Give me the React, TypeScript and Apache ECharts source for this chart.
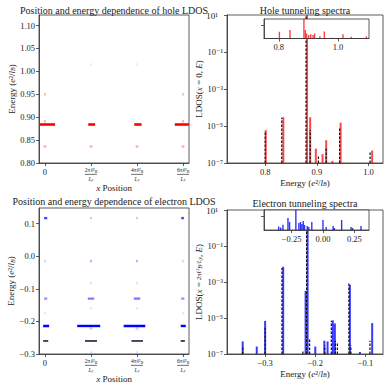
import React, { useEffect, useRef } from 'react';
import * as echarts from 'echarts';

// ---------- Top-left: hole LDOS map (x in units of 2πℓ²_B/L_y) ----------
const holeSegE = [0.884, 0.884, 0.884, 0.884, 0.836, 0.836, 0.836, 0.836, 0.891, 0.891, 0.95, 0.95, 1.015, 1.015];
const holeSegX0 = [-0.13, 0.94, 1.94, 2.82, -0.03, 0.97, 1.97, 2.97, -0.02, 2.98, -0.02, 2.98, 0.98, 1.98];
const holeSegX1 = [0.22, 1.09, 2.1, 3.13, 0.03, 1.03, 2.03, 3.03, 0.02, 3.02, 0.02, 3.02, 1.02, 2.02];
const holeSegW = [1, 1, 1, 1, 0.3, 0.3, 0.3, 0.3, 0.3, 0.3, 0.25, 0.25, 0.1, 0.1];

// ---------- Bottom-left: electron LDOS map ----------
const elecSegE = [0.117, 0.117, 0.117, 0.117, -0.015, -0.015, -0.015, -0.015, -0.083, -0.083, -0.13, -0.13, -0.13, -0.13, -0.16, -0.16, -0.175, -0.175, -0.214, -0.214, -0.214, -0.214, -0.222, -0.222, -0.295, -0.295];
const elecSegX0 = [-0.02, 0.98, 1.98, 2.96, -0.02, 0.98, 1.98, 2.98, 0.98, 1.98, -0.02, 0.93, 1.93, 2.96, 0.98, 1.98, -0.02, 2.98, -0.04, 0.7, 1.71, 2.95, 0.97, 1.97, 0.98, 1.98];
const elecSegX1 = [0.05, 1.02, 2.02, 3.02, 0.02, 1.02, 2.02, 3.02, 1.02, 2.02, 0.05, 1.07, 2.07, 3.03, 1.02, 2.02, 0.02, 3.02, 0.09, 1.2, 2.18, 3.06, 1.03, 2.03, 1.02, 2.02];
const elecSegW = [0.7, 0.2, 0.2, 0.7, 0.15, 0.3, 0.3, 0.15, 0.12, 0.12, 0.4, 0.5, 0.5, 0.4, 0.1, 0.1, 0.1, 0.1, 1, 1, 1, 1, 0.2, 0.2, 0.1, 0.1];
const elecDarkE = [-0.26, -0.26, -0.26, -0.26];
const elecDarkX0 = [-0.04, 0.87, 1.88, 2.95];
const elecDarkX1 = [0.07, 1.13, 2.13, 3.04];

// ---------- Top-right: hole tunneling spectra ----------
const holeRedE = [0.801, 0.835, 0.881, 0.887, 0.898, 0.911, 0.918, 0.93, 0.946, 1.007];
const holeRedV = [6e-6, 3e-5, 20, 3e-5, 6e-7, 3e-7, 1.7e-6, 1.3e-7, 1.5e-5, 4.7e-7];
const holeBlackE = [0.8, 0.832, 0.879, 0.887, 0.903, 0.918, 0.944, 1.003];
const holeBlackV = [5e-6, 2.8e-5, 20, 6e-6, 2.5e-7, 6.6e-7, 8e-6, 4e-7];
const holeInsetE = [0.802, 0.838, 0.885, 0.89, 0.894, 0.901, 0.908, 0.916, 0.921, 0.939, 0.954, 0.98, 1.017, 1.045, 1.096];
const holeInsetH = [0.51, 0.65, 1.6, 0.65, 0.39, 0.26, 0.33, 0.26, 0.39, 0.18, 0.54, 0.05, 0.33, 0.13, 0.18];

// ---------- Bottom-right: electron tunneling spectra ----------
const elecBlueE = [-0.3447, -0.3167, -0.3, -0.264, -0.2193, -0.2153, -0.2, -0.182, -0.1755, -0.165, -0.161, -0.131, -0.111, -0.0866];
const elecBlueV = [5e-7, 2.6e-7, 6.9e-6, 7e-3, 3.2e-4, 20, 2.6e-7, 5.5e-7, 5e-7, 7.4e-6, 5e-6, 7e-4, 1.3e-7, 5.2e-6];
const elecBlackE = [-0.3447, -0.3, -0.2665, -0.2247, -0.2173, -0.2113, -0.181, -0.168, -0.16, -0.156, -0.133, -0.129, -0.091];
const elecBlackV = [2.5e-7, 2.8e-6, 6e-3, 1.4e-7, 20, 7e-7, 3e-7, 7e-6, 5.5e-7, 4e-7, 1e-3, 3e-7, 5.5e-7];
const elecInsetE = [-0.353, -0.337, -0.319, -0.279, -0.266, -0.216, -0.192, -0.179, -0.168, -0.157, -0.147, -0.125, -0.113, -0.089, 0.0, 0.025, 0.081, 0.091, 0.149, 0.224, 0.236, 0.303];
const elecInsetH = [0.26, 0.18, 0.39, 0.9, 0.6, 1.6, 0.52, 0.6, 0.45, 0.67, 0.38, 0.3, 0.22, 0.6, 0.75, 0.22, 0.3, 0.15, 0.75, 0.22, 0.15, 0.3];

// ---------- Ticks ----------
const mapXTicks = [0, 1, 2, 3];
const mapXNumerators = ['0', '2π', '4π', '6π'];
const holeMapYTicks = [0.8, 0.85, 0.9, 0.95, 1.0, 1.05, 1.1];
const elecMapYTicks = [-0.3, -0.2, -0.1, 0.0, 0.1];
const logYTicks = [-7, -5, -3, -1, 1];
const logYTopExp = 1;
const holeSpecXTicks = [0.8, 0.9, 1.0];
const elecSpecXTicks = [-0.3, -0.2, -0.1];
const holeInsetXTicks = [0.8, 1.0];
const elecInsetXTicks = [-0.25, 0, 0.25];

const FONT = '"Liberation Serif", "DejaVu Serif", serif';
const TXT = '#222';
const LINE = '#333';

const SUP: Record<string, string> = { '-': '⁻', '0': '⁰', '1': '¹', '2': '²', '3': '³', '4': '⁴', '5': '⁵', '6': '⁶', '7': '⁷', '8': '⁸', '9': '⁹' };
const supStr = (n: number) => String(n).split('').map((c) => SUP[c] || c).join('');
const minus = (s: string) => s.replace('-', '\u2212');

const nameRich = {
  i: { fontFamily: FONT, fontSize: 9, fontStyle: 'italic', color: TXT },
  sb: { fontFamily: FONT, fontSize: 6, fontStyle: 'italic', color: TXT, verticalAlign: 'bottom' },
  s: { fontFamily: FONT, fontSize: 6.5, fontStyle: 'italic', color: TXT },
};
const nameStyle = { fontFamily: FONT, fontSize: 9, color: TXT, rich: nameRich };

function baseAxis(extra: any) {
  return {
    type: 'value',
    axisLine: { show: true, onZero: false, lineStyle: { color: LINE, width: 0.8 } },
    splitLine: { show: false },
    ...extra,
  };
}

function segData(e: number[], x0: number[], x1: number[], w: number[] | null) {
  return e.map((v, i) => [x0[i], x1[i], v, w ? w[i] : 1]);
}

function segRender(color: string, thick: number) {
  return (params: any, api: any) => {
    const x0 = api.value(0);
    const x1 = api.value(1);
    const e = api.value(2);
    const w = api.value(3);
    const a = api.coord([x0, e]);
    const b = api.coord([x1, e]);
    let x = a[0];
    let width = b[0] - a[0];
    if (width < 2) {
      x = (a[0] + b[0]) / 2 - 1;
      width = 2;
    }
    return {
      type: 'rect',
      shape: { x, y: a[1] - thick / 2, width, height: thick },
      style: { fill: color, opacity: w },
    };
  };
}

function barRender(color: string, w: number, base: number) {
  return (params: any, api: any) => {
    const x = api.value(0);
    const v = api.value(1);
    const p0 = api.coord([x, base]);
    const p1 = api.coord([x, v]);
    return {
      type: 'rect',
      shape: { x: p0[0] - w / 2, y: p1[1], width: w, height: p0[1] - p1[1] },
      style: { fill: color },
    };
  };
}

function dashRender(base: number) {
  return (params: any, api: any) => {
    const x = api.value(0);
    const v = api.value(1);
    const p0 = api.coord([x, base]);
    const p1 = api.coord([x, v]);
    return {
      type: 'line',
      shape: { x1: p0[0], y1: p0[1], x2: p1[0], y2: p1[1] },
      style: { stroke: '#111', lineWidth: 1.2, lineDash: [2.5, 1.5] },
    };
  };
}

const logData = (e: number[], v: number[]) => e.map((x, i) => [x, Math.min(Math.log10(v[i]), 1.5)]);
const linData = (e: number[], h: number[]) => e.map((x, i) => [x, h[i]]);

const labelEnds = { showMinLabel: true, showMaxLabel: true, hideOverlap: false };

function mapXAxis(gridIndex: number) {
  return baseAxis({
    gridIndex,
    min: -0.13,
    max: 3.13,
    name: '{i|x} Position',
    nameLocation: 'middle',
    nameGap: 20,
    nameTextStyle: nameStyle,
    axisTick: { show: true, length: 3, customValues: mapXTicks, lineStyle: { color: LINE, width: 0.8 } },
    axisLabel: {
      ...labelEnds,
      customValues: mapXTicks,
      margin: 4,
      formatter: (v: number) => {
        const i = mapXTicks.indexOf(Math.round(v));
        if (i <= 0) return '{z|0}';
        return `{n|${mapXNumerators[i]}ℓ²}{sb|B}\n{bar|}\n{d|L}{sb|y}`;
      },
      rich: {
        z: { fontFamily: FONT, fontSize: 8.5, color: TXT },
        n: { fontFamily: FONT, fontSize: 5.5, color: TXT, lineHeight: 6 },
        sb: { fontFamily: FONT, fontSize: 4, color: TXT, fontStyle: 'italic', verticalAlign: 'bottom', lineHeight: 6 },
        bar: { width: 12, height: 0.7, lineHeight: 2.5, backgroundColor: '#333' },
        d: { fontFamily: FONT, fontSize: 5.5, fontStyle: 'italic', color: TXT, lineHeight: 6 },
      },
    },
  });
}

function linYAxis(gridIndex: number, min: number, max: number, ticks: number[], digits: number) {
  return baseAxis({
    gridIndex,
    min,
    max,
    name: 'Energy ({i|e}²/{i|l}{sb|B})',
    nameLocation: 'middle',
    nameRotate: 90,
    nameGap: 20,
    nameTextStyle: nameStyle,
    axisTick: { show: true, length: 3, customValues: ticks, lineStyle: { color: LINE, width: 0.8 } },
    axisLabel: {
      ...labelEnds,
      customValues: ticks,
      margin: 4,
      fontFamily: FONT,
      fontSize: 8.5,
      color: TXT,
      formatter: (v: number) => minus(v.toFixed(digits)),
    },
  });
}

function specXAxis(gridIndex: number, min: number, max: number, ticks: number[], digits: number) {
  return baseAxis({
    gridIndex,
    min,
    max,
    name: 'Energy ({i|e}²/{i|l}{sb|B})',
    nameLocation: 'middle',
    nameGap: 15,
    nameTextStyle: nameStyle,
    axisTick: { show: true, length: 3, customValues: ticks, lineStyle: { color: LINE, width: 0.8 } },
    axisLabel: {
      ...labelEnds,
      customValues: ticks,
      margin: 4,
      fontFamily: FONT,
      fontSize: 8.5,
      color: TXT,
      formatter: (v: number) => minus(v.toFixed(digits)),
    },
  });
}

function logYAxis(gridIndex: number, name: string) {
  return baseAxis({
    gridIndex,
    min: -7,
    max: 1,
    name,
    nameLocation: 'middle',
    nameRotate: 90,
    nameGap: 21,
    nameTextStyle: nameStyle,
    axisTick: { show: true, length: 3, customValues: logYTicks, lineStyle: { color: LINE, width: 0.8 } },
    axisLabel: {
      ...labelEnds,
      customValues: logYTicks.filter((t) => t < logYTopExp),
      margin: 4,
      fontFamily: FONT,
      fontSize: 8.5,
      color: TXT,
      formatter: (v: number) => '10' + supStr(Math.round(v)),
    },
  });
}

function insetXAxis(gridIndex: number, min: number, max: number, ticks: number[], digits: number) {
  return baseAxis({
    gridIndex,
    min,
    max,
    z: 6,
    axisTick: { show: true, length: 3, customValues: ticks, lineStyle: { color: LINE, width: 0.8 } },
    axisLabel: {
      ...labelEnds,
      customValues: ticks,
      margin: 4,
      fontFamily: FONT,
      fontSize: 8.5,
      color: TXT,
      formatter: (v: number) => minus(v.toFixed(digits)),
    },
  });
}

function insetYAxis(gridIndex: number) {
  return baseAxis({
    gridIndex,
    min: 0,
    max: 1.5,
    z: 6,
    axisTick: { show: true, length: 3, customValues: [1], lineStyle: { color: LINE, width: 0.8 } },
    axisLabel: { show: false, customValues: [1] },
  });
}

const gridBase = { show: true, borderColor: LINE, borderWidth: 0.8, containLabel: false, outerBoundsMode: 'none' };

const titleText = (x: number, y: number, text: string, size: number, align: string) => ({
  type: 'text',
  x,
  y,
  z: 50,
  style: { text, font: `${size}px ${FONT}`, fill: TXT, textAlign: align, textVerticalAlign: 'middle' },
});

export default function App() {
  const ref = useRef<HTMLDivElement>(null);
  useEffect(() => {
    if (!ref.current) return;
    const chart = echarts.init(ref.current, undefined, { renderer: 'svg' });
    const topLabel = '10' + supStr(logYTopExp);
    const option: any = {
      animation: false,
      backgroundColor: '#fff',
      grid: [
        { ...gridBase, left: 39, top: 15, width: 150, height: 148 },
        { ...gridBase, left: 227, top: 15, width: 156, height: 148 },
        { ...gridBase, left: 264, top: 19, width: 105, height: 19.5, z: 5, backgroundColor: '#fff' },
        { ...gridBase, left: 39, top: 208, width: 150, height: 146 },
        { ...gridBase, left: 227, top: 210, width: 156, height: 144 },
        { ...gridBase, left: 264, top: 210, width: 105, height: 20, z: 5, backgroundColor: '#fff' },
      ],
      xAxis: [
        mapXAxis(0),
        specXAxis(1, 0.726, 1.028, holeSpecXTicks, 1),
        insetXAxis(2, 0.75, 1.105, holeInsetXTicks, 1),
        mapXAxis(3),
        specXAxis(4, -0.376, -0.065, elecSpecXTicks, 1),
        insetXAxis(5, -0.47, 0.367, elecInsetXTicks, 2),
      ],
      yAxis: [
        linYAxis(0, 0.8, 1.123, holeMapYTicks, 2),
        logYAxis(1, 'LDOS({i|x} = 0, {i|E})'),
        insetYAxis(2),
        linYAxis(3, -0.3, 0.148, elecMapYTicks, 1),
        logYAxis(4, 'LDOS({i|x} = {s|2πℓ²}{sb|B}{s|/L}{sb|y}, {i|E})'),
        insetYAxis(5),
      ],
      graphic: [
        titleText(114, 10, 'Position and energy dependence of hole LDOS', 10, 'center'),
        titleText(305, 10, 'Hole tunneling spectra', 10, 'center'),
        titleText(114, 201, 'Position and energy dependence of electron LDOS', 10, 'center'),
        titleText(305, 203, 'Electron tunneling spectra', 10, 'center'),
        titleText(212, 16, topLabel, 9, 'center'),
        titleText(212, 211, topLabel, 9, 'center'),
      ],
      series: [
        { type: 'custom', xAxisIndex: 0, yAxisIndex: 0, clip: true, encode: { x: [0, 1], y: 2 }, data: segData(holeSegE, holeSegX0, holeSegX1, holeSegW), renderItem: segRender('#ff0000', 2.6) },
        { type: 'custom', xAxisIndex: 1, yAxisIndex: 1, clip: true, encode: { x: 0, y: 1 }, data: logData(holeRedE, holeRedV), renderItem: barRender('rgba(255,0,0,0.72)', 2, -7) },
        { type: 'custom', xAxisIndex: 1, yAxisIndex: 1, clip: true, encode: { x: 0, y: 1 }, data: logData(holeBlackE, holeBlackV), renderItem: dashRender(-7) },
        { type: 'custom', xAxisIndex: 2, yAxisIndex: 2, clip: true, z: 7, encode: { x: 0, y: 1 }, data: linData(holeInsetE, holeInsetH), renderItem: barRender('rgba(255,0,0,0.75)', 1.4, 0) },
        { type: 'custom', xAxisIndex: 3, yAxisIndex: 3, clip: true, encode: { x: [0, 1], y: 2 }, data: segData(elecSegE, elecSegX0, elecSegX1, elecSegW), renderItem: segRender('#0000ff', 2.4) },
        { type: 'custom', xAxisIndex: 3, yAxisIndex: 3, clip: true, encode: { x: [0, 1], y: 2 }, data: segData(elecDarkE, elecDarkX0, elecDarkX1, null), renderItem: segRender('#1c1c3a', 1.6) },
        { type: 'custom', xAxisIndex: 4, yAxisIndex: 4, clip: true, encode: { x: 0, y: 1 }, data: logData(elecBlueE, elecBlueV), renderItem: barRender('rgba(0,0,255,0.78)', 2, -7) },
        { type: 'custom', xAxisIndex: 4, yAxisIndex: 4, clip: true, encode: { x: 0, y: 1 }, data: logData(elecBlackE, elecBlackV), renderItem: dashRender(-7) },
        { type: 'custom', xAxisIndex: 5, yAxisIndex: 5, clip: true, z: 7, encode: { x: 0, y: 1 }, data: linData(elecInsetE, elecInsetH), renderItem: barRender('rgba(0,0,255,0.8)', 1.4, 0) },
      ],
    };
    chart.setOption(option);
    return () => chart.dispose();
  }, []);
  return <div ref={ref} style={{ position: 'absolute', left: 0, top: 0, width: 389, height: 389, background: '#fff' }} />;
}
